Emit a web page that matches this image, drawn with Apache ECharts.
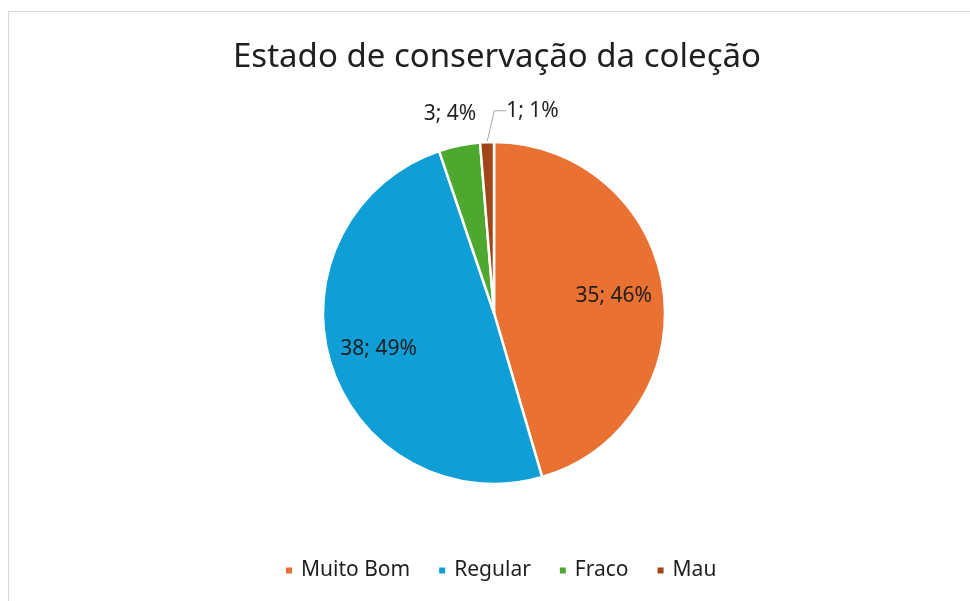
<!DOCTYPE html>
<html>
<head>
<meta charset="utf-8">
<script src="https://cdn.jsdelivr.net/npm/echarts@6/dist/echarts.min.js"></script>
<style>
  html, body { margin: 0; padding: 0; overflow: hidden; background: #fff; }
  #chart { width: 970px; height: 601px; }
  #frame {
    position: absolute; left: 8px; top: 11px; width: 1000px; height: 700px;
    border: 1px solid #d9d9d9; pointer-events: none;
  }
</style>
</head>
<body>
<div id="chart"></div>
<div id="frame"></div>
<script>
const categories = ['Muito Bom', 'Regular', 'Fraco', 'Mau'];
const counts = [35, 38, 3, 1];
const percents = [46, 49, 4, 1];
const colors = ['#E97132', '#0F9ED5', '#4EA72E', '#A04515'];

const FONT = '"Noto Sans", sans-serif';
const center = [494, 313];
const R = 171;

function labelText(p) {
  return counts[p.dataIndex] + '; ' + percents[p.dataIndex] + '%';
}

// main pie: slices + the two small outside labels
const mainData = categories.map((name, i) => ({
  name: name,
  value: counts[i],
  itemStyle: { color: colors[i] },
  label: i === 3 ? { show: true, padding: [0, 0, 8, 9] } : { show: i === 2 },
  labelLine: { show: i === 3 }
}));

// transparent ring on top, only to place the big labels further out than mid-radius
const labelData = categories.map((name, i) => ({
  name: name,
  value: counts[i],
  label: { show: i < 2 }
}));

const chart = echarts.init(document.getElementById('chart'), null, { renderer: 'canvas' });

chart.setOption({
  animation: false,
  color: colors,
  title: {
    text: 'Estado de conservação da coleção',
    left: 228,
    top: 36,
    textStyle: { fontFamily: FONT, fontSize: 33, fontWeight: 'normal', color: '#1f1f1f' }
  },
  legend: {
    data: categories,
    left: 279,
    top: 555,
    icon: 'rect',
    itemWidth: 8,
    itemHeight: 8,
    itemGap: 27,
    selectedMode: false,
    textStyle: { fontFamily: FONT, fontSize: 21, color: '#1f1f1f', padding: [0, 0, 0, 3] }
  },
  series: [
    {
      type: 'pie',
      center: center,
      radius: [0, R],
      startAngle: 90,
      clockwise: true,
      avoidLabelOverlap: false,
      itemStyle: { borderColor: '#fff', borderWidth: 2.5 },
      label: {
        position: 'outside',
        formatter: labelText,
        fontFamily: FONT,
        fontSize: 21,
        color: '#1f1f1f'
      },
      labelLine: {
        length: 25,
        length2: 12,
        minTurnAngle: 0,
        lineStyle: { color: '#a6a6a6', width: 1 }
      },
      labelLayout: function (p) {
        if (p.dataIndex === 2) {
          return { x: p.rect.x + 12, y: p.rect.y - 27, align: 'center', verticalAlign: 'middle' };
        }
        if (p.dataIndex === 3) {
          return { x: p.rect.x + p.rect.width + 2, y: p.rect.y - 30, align: 'left', verticalAlign: 'middle' };
        }
      },
      emphasis: { disabled: true },
      data: mainData
    },
    {
      type: 'pie',
      center: center,
      radius: [65, R],
      startAngle: 90,
      clockwise: true,
      silent: true,
      avoidLabelOverlap: false,
      itemStyle: { color: 'rgba(0,0,0,0)', borderWidth: 0 },
      label: {
        position: 'inside',
        formatter: labelText,
        fontFamily: FONT,
        fontSize: 21,
        color: '#1f1f1f'
      },
      labelLine: { show: false },
      emphasis: { disabled: true },
      data: labelData
    }
  ]
});
</script>
</body>
</html>
